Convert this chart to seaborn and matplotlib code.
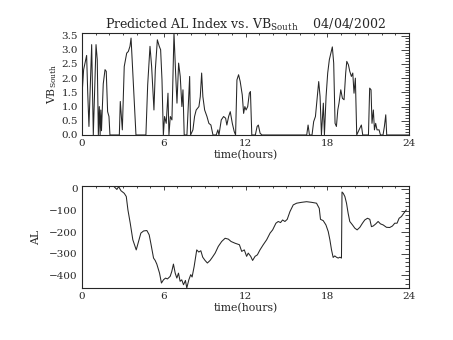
import numpy as np
import pandas as pd
import matplotlib
matplotlib.use("Agg")
import matplotlib.pyplot as plt
from matplotlib.ticker import MultipleLocator
import seaborn as sns

# Southward IMF component VB_South (mV/m) versus time of day
vb_hours = [0.00, 0.12, 0.34, 0.42, 0.51, 0.71, 0.83, 1.03, 1.12, 1.20, 1.27, 1.33, 1.38, 1.43,
            1.56, 1.69, 1.78, 1.88, 1.98, 2.05, 2.74, 2.81, 2.96, 3.10, 3.28, 3.40, 3.52, 3.60,
            3.72, 3.84, 3.96, 4.69, 4.82, 4.99, 5.11, 5.28, 5.38, 5.53, 5.67, 5.77, 5.87, 5.97,
            6.06, 6.18, 6.31, 6.38, 6.48, 6.60, 6.75, 6.87, 6.97, 7.09, 7.21, 7.33, 7.41, 7.50,
            7.70, 7.90, 7.97, 8.14, 8.26, 8.38, 8.58, 8.68, 8.78, 8.87, 9.00, 9.17, 9.31, 9.46,
            9.61, 9.85, 9.97, 10.05, 10.22, 10.39, 10.54, 10.63, 10.76, 10.88, 11.03, 11.17,
            11.27, 11.37, 11.49, 11.61, 11.76, 11.86, 11.95, 12.04, 12.16, 12.28, 12.36, 12.46,
            12.72, 12.85, 12.94, 13.07, 13.21, 16.49, 16.59, 16.69, 16.88, 17.00, 17.13, 17.27,
            17.37, 17.47, 17.57, 17.71, 17.79, 17.91, 18.03, 18.15, 18.27, 18.37, 18.47, 18.57,
            18.67, 18.77, 18.86, 18.99, 19.11, 19.23, 19.35, 19.43, 19.55, 19.65, 19.77, 19.87,
            19.96, 20.06, 20.16, 20.33, 20.50, 20.60, 21.02, 21.11, 21.21, 21.28, 21.38, 21.46,
            21.55, 21.65, 21.80, 21.90, 22.09, 22.19, 22.29, 22.36, 24.00]
vb_south = [1.40, 2.30, 2.80, 1.50, 0.30, 3.18, 0.00, 3.18, 2.65, 0.00, 1.00, 0.00, 0.88, 0.15,
            1.80, 2.30, 2.24, 0.82, 0.65, 0.00, 0.00, 1.18, 0.18, 2.41, 2.88, 2.94, 3.12, 3.41,
            2.29, 1.12, 0.00, 0.00, 1.76, 3.12, 2.41, 0.88, 2.29, 3.35, 3.12, 3.00, 1.94, 0.00,
            0.65, 0.41, 1.47, 0.00, 0.65, 0.53, 3.59, 2.18, 1.12, 2.53, 2.06, 1.00, 1.59, 0.00,
            0.00, 2.06, 0.00, 0.18, 0.65, 0.88, 1.00, 1.35, 2.18, 1.35, 0.88, 0.65, 0.41, 0.35,
            0.00, 0.00, 0.18, 0.00, 0.53, 0.65, 0.59, 0.35, 0.65, 0.82, 0.41, 0.12,
            0.00, 1.94, 2.12, 1.88, 1.41, 0.76, 1.00, 0.88, 1.00, 1.47, 1.53, 0.00,
            0.00, 0.30, 0.35, 0.06, 0.00, 0.00, 0.35, 0.00, 0.00, 0.47, 0.65, 1.35,
            1.88, 1.35, 0.00, 1.12, 0.00, 1.35, 2.18, 2.65, 2.90, 3.10, 2.53, 0.41,
            0.30, 0.88, 1.12, 1.59, 1.29, 1.24, 2.18, 2.59, 2.47, 2.24, 2.06, 2.18,
            1.47, 2.00, 0.00, 0.18, 0.35, 0.00, 0.00, 1.65, 1.59, 0.41, 0.88, 0.18,
            0.41, 0.18, 0.18, 0.00, 0.00, 0.30, 0.71, 0.00, 0.00]

# Predicted auroral electrojet AL index (nT)
al_hours = [0.00, 2.30, 2.56, 2.69, 2.86, 3.10, 3.25, 3.37, 3.54, 3.73, 3.98, 4.15, 4.32, 4.52,
            4.76, 4.93, 5.05, 5.25, 5.37, 5.49, 5.69, 5.83, 5.98, 6.13, 6.27, 6.47, 6.59, 6.71,
            6.84, 6.96, 7.08, 7.20, 7.32, 7.45, 7.59, 7.69, 7.84, 7.98, 8.08, 8.23, 8.42, 8.57,
            8.72, 8.86, 9.03, 9.20, 9.40, 9.57, 9.77, 10.00, 10.25, 10.50, 10.74, 10.94, 11.23,
            11.55, 11.72, 11.91, 12.08, 12.20, 12.38, 12.52, 12.70, 12.87, 13.06, 13.30, 13.55,
            13.80, 13.99, 14.23, 14.40, 14.57, 14.72, 14.89, 15.06, 15.26, 15.50, 15.75, 16.11,
            16.48, 16.85, 17.21, 17.41, 17.50, 17.70, 17.90, 18.07, 18.19, 18.31, 18.43, 18.55,
            18.67, 18.80, 18.92, 19.04, 19.08, 19.17, 19.29, 19.41, 19.53, 19.65, 19.85, 20.02,
            20.19, 20.39, 20.58, 20.75, 20.95, 21.12, 21.24, 21.37, 21.56, 21.73, 21.90, 22.10,
            22.34, 22.58, 22.78, 22.95, 23.12, 23.27, 23.44, 23.61, 23.80]
al_index = [14, 14, -2, 11, -8, -20, -35, -97, -159, -236, -283, -244, -205, -195,
            -193, -213, -252, -321, -332, -349, -391, -437, -422, -414, -418, -406, -383, -349,
            -391, -414, -391, -429, -422, -445, -425, -460, -422, -398, -409, -360, -283, -293,
            -287, -317, -332, -344, -332, -317, -298, -267, -244, -229, -233, -244, -252,
            -259, -290, -283, -313, -298, -313, -332, -313, -306, -283, -259, -236,
            -205, -190, -159, -151, -156, -144, -151, -141, -105, -74, -66, -62,
            -59, -62, -66, -90, -141, -147, -167, -198, -236, -283, -318, -311,
            -317, -321, -317, -321, -14, -20, -35, -66, -113, -151, -167, -182,
            -190, -178, -159, -144, -136, -141, -175, -172, -162, -151, -162, -167,
            -178, -179, -172, -159, -159, -136, -128, -113, -97]

hour_ticks = [0, 6, 12, 18, 24]
vb_ticks = [0.0, 0.5, 1.0, 1.5, 2.0, 2.5, 3.0, 3.5]
al_ticks = [0, -100, -200, -300, -400]

vb_df = pd.DataFrame({"time": vb_hours, "vb": vb_south})
al_df = pd.DataFrame({"time": al_hours, "al": al_index})

sns.set_style("white")
plt.rcParams["font.family"] = ["DejaVu Serif"]
plt.rcParams["mathtext.fontset"] = "dejavuserif"

ink = "#262626"
fig = plt.figure(figsize=(4.53, 3.40), dpi=100)
ax1 = fig.add_axes([0.181, 0.603, 0.722, 0.300])
ax2 = fig.add_axes([0.181, 0.153, 0.722, 0.300])

sns.lineplot(data=vb_df, x="time", y="vb", ax=ax1, color=ink, linewidth=0.75,
             estimator=None, sort=False)
sns.lineplot(data=al_df, x="time", y="al", ax=ax2, color=ink, linewidth=0.75,
             estimator=None, sort=False)

ax1.set_ylim(0, max(vb_south))
ax2.set_ylim(min(al_index), max(al_index))
ax1.set_yticks(vb_ticks)
ax1.set_yticklabels([f"{v:.1f}" for v in vb_ticks])
ax1.yaxis.set_minor_locator(MultipleLocator(0.1))
ax2.set_yticks(al_ticks)
ax2.yaxis.set_minor_locator(MultipleLocator(20))

for ax in (ax1, ax2):
    ax.set_xlim(0, 24)
    ax.set_xticks(hour_ticks)
    ax.xaxis.set_minor_locator(MultipleLocator(1))
    ax.set_xlabel("time(hours)", fontsize=7.8, color=ink, labelpad=1)
    for side in ax.spines.values():
        side.set_color(ink)
        side.set_linewidth(0.8)
    ax.tick_params(axis="both", which="both", direction="in", top=True, right=True,
                   colors=ink, labelsize=7.5, width=0.6, pad=3)
    ax.tick_params(axis="x", which="major", length=3)
    ax.tick_params(axis="x", which="minor", length=1.5)
    ax.tick_params(axis="y", which="major", length=6)
    ax.tick_params(axis="y", which="minor", length=3)

ax1.set_ylabel(r"VB$_{\mathrm{South}}$", fontsize=7.8, color=ink, labelpad=2)
ax2.set_ylabel("AL", fontsize=7.8, color=ink, labelpad=6)
ax1.set_title(r"Predicted AL Index vs. VB$_{\mathrm{South}}$    04/04/2002",
              fontsize=9, color=ink, pad=3)

fig.savefig("out.png", dpi=100, facecolor="white")
